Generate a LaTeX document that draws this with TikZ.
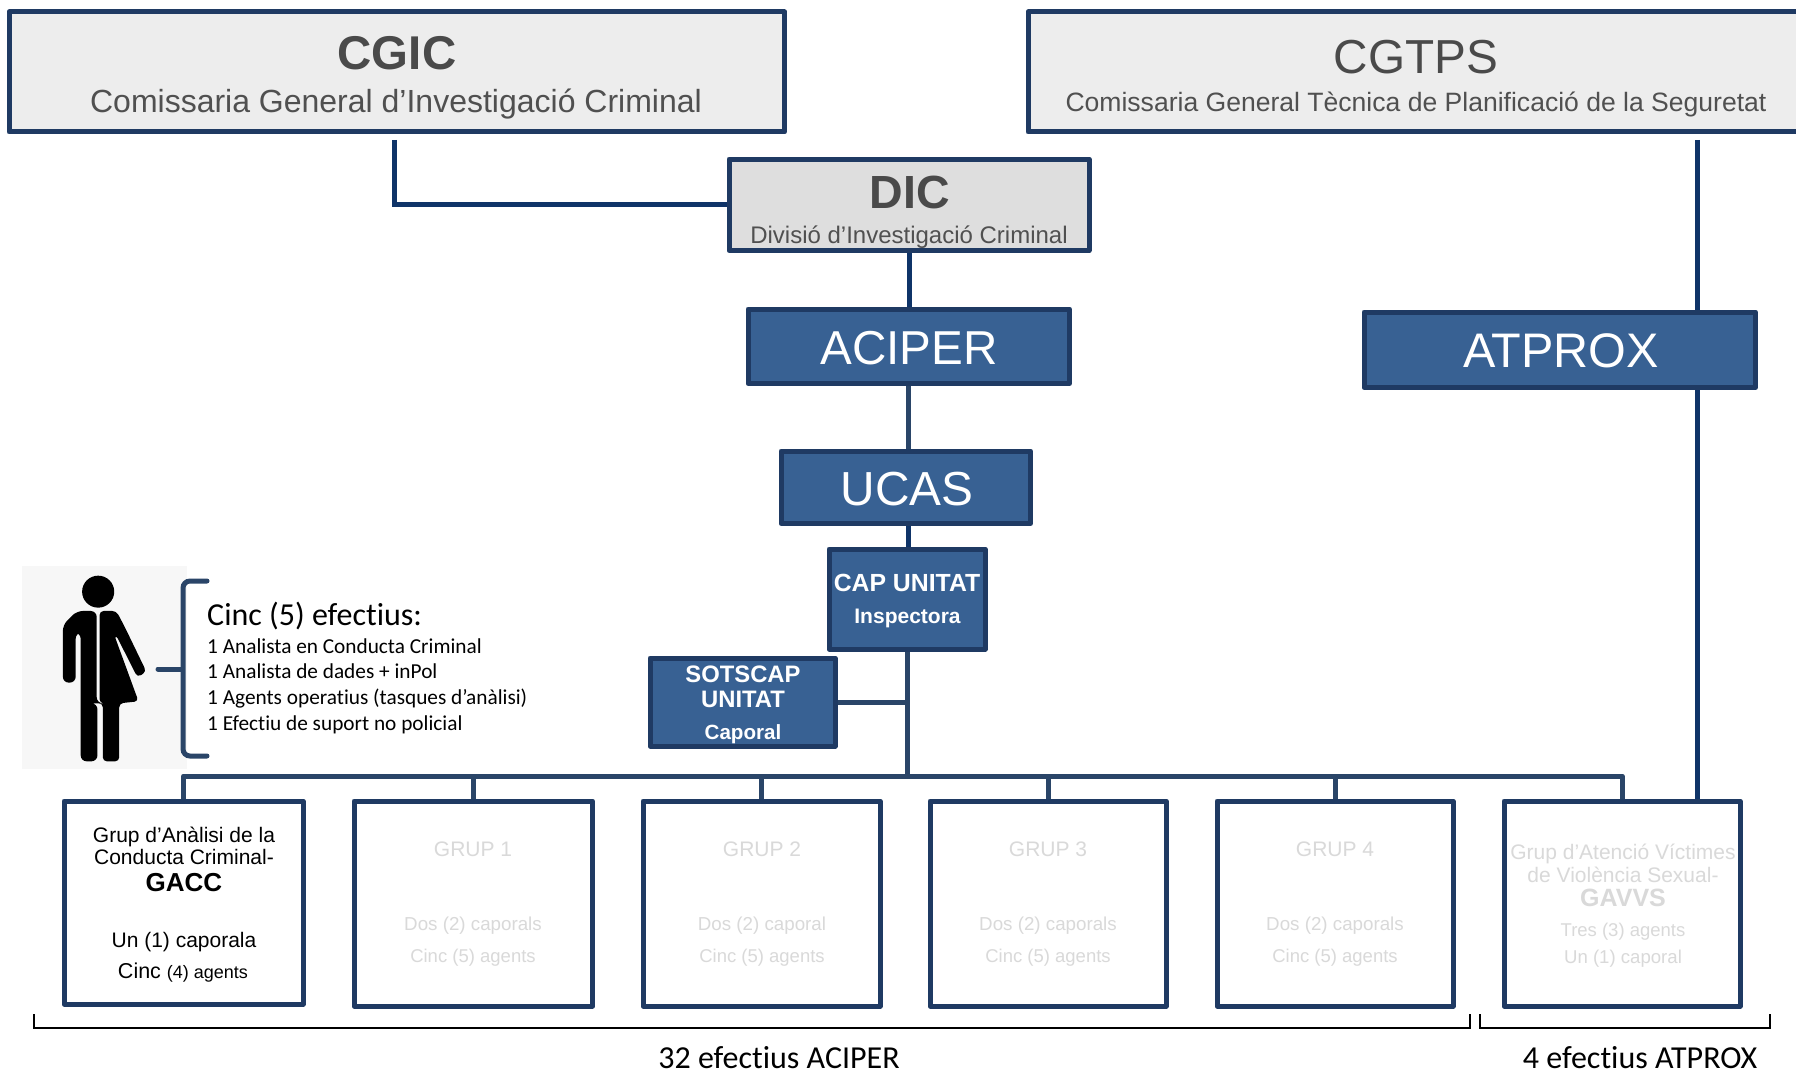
\documentclass[tikz,border=0pt]{standalone}
\usepackage{fontspec}
\setmainfont{Liberation Sans}
\newfontfamily\calfont[Ligatures=NoCommon]{Carlito}
\newcommand{\fs}[1]{\fontsize{#1}{#1}\selectfont}
\definecolor{edge}{HTML}{1F3A63}
\definecolor{wire}{HTML}{2A4568}
\definecolor{navy}{HTML}{0F3468}
\definecolor{bluefill}{HTML}{386193}
\definecolor{lightfill}{HTML}{EDEDED}
\definecolor{dicfill}{HTML}{DEDEDE}
\definecolor{darktext}{HTML}{4A4A4A}
\definecolor{midtext}{HTML}{505050}
\definecolor{ghost}{HTML}{D9D9D9}
\tikzset{
  bx/.style={draw=edge,line width=5pt,inner sep=0pt,line join=round},
  topbox/.style={bx,fill=lightfill},
  dicbox/.style={bx,fill=dicfill},
  bluebox/.style={bx,fill=bluefill},
  grpbox/.style={bx,fill=white},
  txt/.style={inner sep=0pt,anchor=base},
  ltxt/.style={inner sep=0pt,anchor=base west},
  wh/.style={txt,text=white},
  dk/.style={txt,text=midtext},
  gh/.style={txt,text=ghost},
  bk/.style={txt,text=black},
  wirel/.style={draw=wire,line width=5pt},
  navyl/.style={draw=navy,line width=5pt},
  brc/.style={draw=black,line width=1.3pt},
}
\newcommand{\BX}[6]{\node[#2,minimum width=#5-#3,minimum height=#6-#4] (#1) at ({(#3+#5)/2},{(#4+#6)/2}) {};}
\begin{document}
\begin{tikzpicture}[x=1pt,y=-1pt]
\useasboundingbox (0,0) rectangle (1796,1070);
\coordinate (cgicfoot) at (394,140);
\coordinate (cgtpsfoot) at (1697,140);
\coordinate (busc) at (907.5,776);
% boxes
\BX{cgic}{topbox}{9}{12}{784.5}{132}
\BX{cgtps}{topbox}{1028}{12}{1802}{132}
\BX{dic}{dicbox}{729}{159}{1089}{250.5}
\BX{aciper}{bluebox}{748}{309}{1069.5}{383.5}
\BX{atprox}{bluebox}{1364}{312}{1755.5}{387.5}
\BX{ucas}{bluebox}{781}{451}{1030.5}{523.5}
\BX{cap}{bluebox}{829}{549}{985}{649}
\BX{sots}{bluebox}{650}{658}{835}{746}
\BX{gacc}{grpbox}{64}{801}{303}{1004}
\BX{g1}{grpbox}{354}{801}{592.5}{1006}
\BX{g2}{grpbox}{643}{801}{880}{1006}
\BX{g3}{grpbox}{930}{801}{1166}{1006}
\BX{g4}{grpbox}{1217}{801}{1453}{1006}
\BX{gavvs}{grpbox}{1504}{801}{1740}{1006}
% connectors
\draw[navyl] (cgicfoot) |- (dic.west);
\draw[navyl] (dic.south) -- (dic.south |- aciper.north);
\draw[wirel] (aciper.south) -- (aciper.south |- ucas.north);
\draw[navyl] (aciper.south |- ucas.south) -- (aciper.south |- cap.north);
\draw[navyl] (cgtpsfoot) -- (cgtpsfoot |- atprox.north);
\draw[navyl] (cgtpsfoot |- atprox.south) -- (cgtpsfoot |- gavvs.north);
\draw[wirel] (cap.south) -- (cap.south |- busc);
\draw[wirel] (sots.east) -- (sots.east -| busc);
\draw[wirel,line join=round] (gacc.north) |- (busc) -| (gavvs.north);
\draw[wirel] (g1.north) -- (g1.north |- busc);
\draw[wirel] (g2.north) -- (g2.north |- busc);
\draw[wirel] (g3.north) -- (g3.north |- busc);
\draw[wirel] (g4.north) -- (g4.north |- busc);
% top labels
\node[txt,text=darktext,font=\fs{47.4}\bfseries] (tcgic) at (397,70) {CGIC};
\node[dk,font=\fs{32}] (tcgic2) at (396,113) {Comissaria General d’Investigació Criminal};
\node[txt,text=darktext,font=\fs{47.7}] (tcgtps) at (1416,74) {CGTPS};
\node[dk,font=\fs{26.55}] (tcgtps2) at (1416,112) {Comissaria General Tècnica de Planificació de la Seguretat};
\node[txt,text=darktext,font=\fs{46.5}\bfseries] (tdic) at (910,208) {DIC};
\node[dk,font=\fs{24}] (tdic2) at (909,243) {Divisió d’Investigació Criminal};
\node[wh,font=\fs{47.6}] (taciper) at (909,364) {ACIPER};
\node[wh,font=\fs{48.5}] (tatprox) at (1561,367) {ATPROX};
\node[wh,font=\fs{47.8}] (tucas) at (907,505) {UCAS};
\node[wh,font=\fs{24.8}\bfseries] (tcap) at (907,591) {CAP UNITAT};
\node[wh,font=\fs{21}\bfseries] (tcap2) at (907.5,623) {Inspectora};
\node[wh,font=\fs{23.8}\bfseries] (ts1) at (743,682) {SOTSCAP};
\node[wh,font=\fs{23.8}\bfseries] (ts2) at (743,707) {UNITAT};
\node[wh,font=\fs{20.6}\bfseries] (ts3) at (743,739) {Caporal};
% GACC
\node[bk,font=\fs{21}] (a1) at (184,842) {Grup d’Anàlisi de la};
\node[bk,font=\fs{21}] (a2) at (184,864) {Conducta Criminal-};
\node[bk,font=\fs{26}\bfseries] (a3) at (184,891) {GACC};
\node[bk,font=\fs{21}] (a4) at (184,947) {Un (1) caporala};
\node[bk,font=\fs{21.5}] (a5) at (183,978) {Cinc {\fs{18}(4) agents}};
% grups
\node[gh,font=\fs{21}] (b1) at (473,856) {GRUP 1};
\node[gh,font=\fs{18.75}] (b2) at (473,930) {Dos (2) caporals};
\node[gh,font=\fs{18.5}] (b3) at (473,962) {Cinc (5) agents};
\node[gh,font=\fs{21}] (c1) at (762,856) {GRUP 2};
\node[gh,font=\fs{18.75}] (c2) at (762,930) {Dos (2) caporal};
\node[gh,font=\fs{18.5}] (c3) at (762,962) {Cinc (5) agents};
\node[gh,font=\fs{21}] (d1) at (1048,856) {GRUP 3};
\node[gh,font=\fs{18.75}] (d2) at (1048,930) {Dos (2) caporals};
\node[gh,font=\fs{18.5}] (d3) at (1048,962) {Cinc (5) agents};
\node[gh,font=\fs{21}] (e1) at (1335,856) {GRUP 4};
\node[gh,font=\fs{18.75}] (e2) at (1335,930) {Dos (2) caporals};
\node[gh,font=\fs{18.5}] (e3) at (1335,962) {Cinc (5) agents};
\node[gh,font=\fs{21}] (f1) at (1623,859) {Grup d’Atenció Víctimes};
\node[gh,font=\fs{21}] (f2) at (1623,882) {de Violència Sexual-};
\node[gh,font=\fs{25}\bfseries] (f3) at (1623,906) {GAVVS};
\node[gh,font=\fs{18.5}] (f4) at (1623,936) {Tres (3) agents};
\node[gh,font=\fs{18.6}] (f5) at (1623,963) {Un (1) caporal};
% person panel
\fill[black!3] (22,566) rectangle (187,769);
\begin{scope}[shift={(0,540)},x=0.357pt,y=-0.3333pt]
\fill[black] (275,155) ellipse (45 and 48);
\fill[black,rounded corners=6pt] (271,213) -- (215,213) -- (176,255) -- (176,428) -- (212,428) -- (212,278) -- (226,278) -- (226,664) -- (273,664) -- (273,490) -- (271,490) -- cycle;
\fill[black,rounded corners=4pt] (279,213) -- (326,213) -- (350,262) -- (410,395) -- (385,412) -- (325,285) -- (320,285) -- (388,484) -- (334,490) -- (334,664) -- (288,664) -- (288,490) -- (279,490) -- cycle;
\end{scope}
% side brace
\draw[draw=wire,line width=5pt,line cap=round,rounded corners=7pt] (207,581) -- (183,581) -- (183,756) -- (207,756);
\draw[draw=wire,line width=5pt,line cap=round] (158,669) -- (181,669);
% side text
\node[ltxt,font=\calfont\fs{32}] (p0) at (207,625) {Cinc (5) efectius:};
\node[ltxt,font=\calfont\fs{21.3}] (p1) at (207,653) {1 Analista en Conducta Criminal};
\node[ltxt,font=\calfont\fs{21.3}] (p2) at (207,678) {1 Analista de dades + inPol};
\node[ltxt,font=\calfont\fs{21.3}] (p3) at (207,704) {1 Agents operatius (tasques d’anàlisi)};
\node[ltxt,font=\calfont\fs{21.3}] (p4) at (207,730) {1 Efectiu de suport no policial};
% bottom braces
\draw[brc] (34,1014) -- (34,1028) -- (1470,1028) -- (1470,1014);
\draw[brc] (1480,1014) -- (1480,1028) -- (1770,1028) -- (1770,1014);
\node[bk,font=\calfont\fs{32}] (s2) at (779,1068) {32 efectius ACIPER};
\node[bk,font=\calfont\fs{32}] (s3) at (1640,1068) {4 efectius ATPROX};
\end{tikzpicture}
\end{document}
